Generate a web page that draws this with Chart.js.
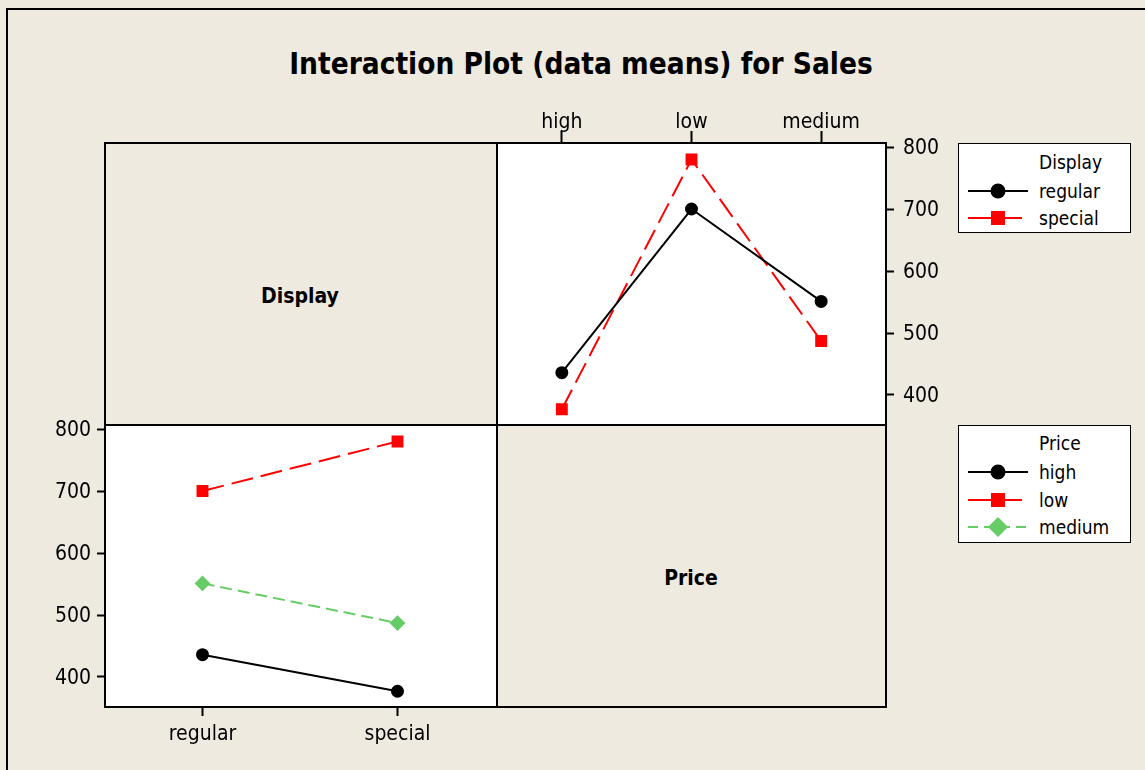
<!DOCTYPE html>
<html><head><meta charset="utf-8">
<script src="https://cdn.jsdelivr.net/npm/chart.js@4.4.1/dist/chart.umd.min.js"></script>
<style>
html,body{margin:0;padding:0;background:#EEEAE0;width:1145px;height:770px;overflow:hidden;
  font-family:'DejaVu Sans Condensed','DejaVu Sans',sans-serif;color:#000;}
.abs{position:absolute;box-sizing:border-box;}
#frame{left:6px;top:8px;width:1200px;height:800px;border-top:2px solid #000;border-left:2px solid #000;}
#title{left:0;width:1162px;top:44px;text-align:center;font-weight:bold;font-size:29.5px;line-height:40px;white-space:nowrap;}
.panel{border:2px solid #000;}
.white{background:#fff;}
.plabel{font-weight:bold;font-size:21px;line-height:26px;white-space:nowrap;transform:translate(-50%,-50%);}
.legbox{left:958px;width:173px;border:1.5px solid #000;background:#fff;}
.lt{left:1039px;font-size:19px;line-height:24px;white-space:nowrap;transform:translateY(-50%);}
.sym{left:966px;width:64px;height:24px;transform:translateY(-50%);}
canvas{position:absolute;}
</style>
</head>
<body>
<div id="frame" class="abs"></div>
<div id="title" class="abs">Interaction Plot (data means) for Sales</div>

<div class="abs panel" style="left:104px;top:142px;width:394px;height:284px;"></div>
<div class="abs panel white" style="left:496px;top:142px;width:391px;height:284px;"></div>
<div class="abs panel white" style="left:104px;top:424px;width:394px;height:284px;"></div>
<div class="abs panel" style="left:496px;top:424px;width:391px;height:284px;"></div>
<div class="abs plabel" style="left:300px;top:296px;">Display</div>
<div class="abs plabel" style="left:691px;top:578px;">Price</div>

<div class="abs legbox" style="top:143px;height:90px;"></div>
<div class="abs lt" style="top:162px;">Display</div>
<svg class="abs sym" style="top:190.5px" viewBox="0 0 64 24"><line x1="2" y1="12" x2="62" y2="12" stroke="#000" stroke-width="2"/><circle cx="32" cy="12" r="7.5" fill="#000"/></svg>
<div class="abs lt" style="top:190.5px;">regular</div>
<svg class="abs sym" style="top:218px" viewBox="0 0 64 24"><line x1="2" y1="12" x2="56" y2="12" stroke="#f00" stroke-width="2"/><rect x="25" y="5" width="14" height="14" fill="#f00"/></svg>
<div class="abs lt" style="top:218px;">special</div>

<div class="abs legbox" style="top:425px;height:118px;"></div>
<div class="abs lt" style="top:443px;">Price</div>
<svg class="abs sym" style="top:472px" viewBox="0 0 64 24"><line x1="2" y1="12" x2="62" y2="12" stroke="#000" stroke-width="2"/><circle cx="32" cy="12" r="7.5" fill="#000"/></svg>
<div class="abs lt" style="top:472px;">high</div>
<svg class="abs sym" style="top:499.5px" viewBox="0 0 64 24"><line x1="2" y1="12" x2="56" y2="12" stroke="#f00" stroke-width="2"/><rect x="25" y="5" width="14" height="14" fill="#f00"/></svg>
<div class="abs lt" style="top:499.5px;">low</div>
<svg class="abs sym" style="top:527px" viewBox="0 0 64 24"><line x1="2" y1="12" x2="62" y2="12" stroke="#66CC66" stroke-width="2" stroke-dasharray="10,6"/><polygon points="32,2 42,12 32,22 22,12" fill="#66CC66"/></svg>
<div class="abs lt" style="top:527px;">medium</div>

<canvas id="cA" width="490" height="345" style="left:470px;top:90px;"></canvas>
<canvas id="cB" width="490" height="370" style="left:20px;top:400px;"></canvas>

<script>
// ---- data ----
const priceLevels = ['high', 'low', 'medium'];
const displayLevels = ['regular', 'special'];
const regularMeans = [436, 700, 551];   // Display = regular, by Price
const specialMeans = [377, 780, 487];   // Display = special, by Price
const yTickValues = [400, 500, 600, 700, 800];
const yMin = 351.6, yMax = 806.5;

// ---- styles ----
const FONT = "'DejaVu Sans Condensed','DejaVu Sans',sans-serif";
const black = {borderColor:'#000', backgroundColor:'#000', pointBackgroundColor:'#000', pointBorderColor:'#000',
  pointStyle:'circle', pointRadius:5.5, borderWidth:2, borderDash:[]};
const red = {borderColor:'#FF0000', backgroundColor:'#FF0000', pointBackgroundColor:'#FF0000', pointBorderColor:'#FF0000',
  pointStyle:'rect', pointRadius:7, borderWidth:2, borderDash:[22,8]};
const green = {borderColor:'#66CC66', backgroundColor:'#66CC66', pointBackgroundColor:'#66CC66', pointBorderColor:'#66CC66',
  pointStyle:'rectRot', pointRadius:6.5, borderWidth:2, borderDash:[12,6]};

function yScale(position, width, pad) {
  return {
    position, min: yMin, max: yMax,
    afterBuildTicks: s => { s.ticks = yTickValues.map(v => ({value: v})); },
    afterFit: s => { s.width = width; s.paddingTop = 0; s.paddingBottom = 0; },
    grid: {display:true, drawOnChartArea:false, drawTicks:true, tickLength:8, tickColor:'#000', tickWidth:2},
    border: {display:false},
    ticks: {color:'#000', font:{family:FONT, size:21}, padding:pad, labelOffset:2}
  };
}
function xScale(position, height, tickLen, pad) {
  return {
    type:'category', position, offset:true,
    afterFit: s => { s.height = height; s.paddingLeft = 0; s.paddingRight = 0; },
    grid: {display:true, drawOnChartArea:false, drawTicks:true, tickLength:tickLen, tickColor:'#000', tickWidth:2, offset:false},
    border: {display:false},
    ticks: {color:'#000', font:{family:FONT, size:21}, padding:pad, maxRotation:0, autoSkip:false}
  };
}
const common = {
  responsive:false, animation:false, devicePixelRatio:1,
  plugins:{legend:{display:false}, tooltip:{enabled:false}},
  elements:{line:{tension:0}, point:{borderWidth:1}}
};

// Panel A: mean Sales by Price, one line per Display level
new Chart(document.getElementById('cA'), {
  type:'line',
  data:{labels:priceLevels, datasets:[
    Object.assign({label:'regular', data:regularMeans, clip:false, order:1}, black),
    Object.assign({label:'special', data:specialMeans, clip:false, order:2}, red)
  ]},
  options:Object.assign({}, common, {
    layout:{padding:{left:27, right:0, top:0, bottom:10}},
    scales:{ x: xScale('top', 53, 12, -4), y: yScale('right', 74, 9) }
  })
});

// Panel B: mean Sales by Display, one line per Price level
const byDisplay = i => [regularMeans[i], specialMeans[i]];
new Chart(document.getElementById('cB'), {
  type:'line',
  data:{labels:displayLevels, datasets:[
    Object.assign({label:'high', data:byDisplay(0), clip:false}, black),
    Object.assign({label:'low', data:byDisplay(1), clip:false}, red),
    Object.assign({label:'medium', data:byDisplay(2), clip:false}, green)
  ]},
  options:Object.assign({}, common, {
    layout:{padding:{left:0, right:15, top:25, bottom:0}},
    scales:{ x: xScale('bottom', 63, 9, 6), y: yScale('left', 85, 6) }
  })
});
</script>
</body></html>
